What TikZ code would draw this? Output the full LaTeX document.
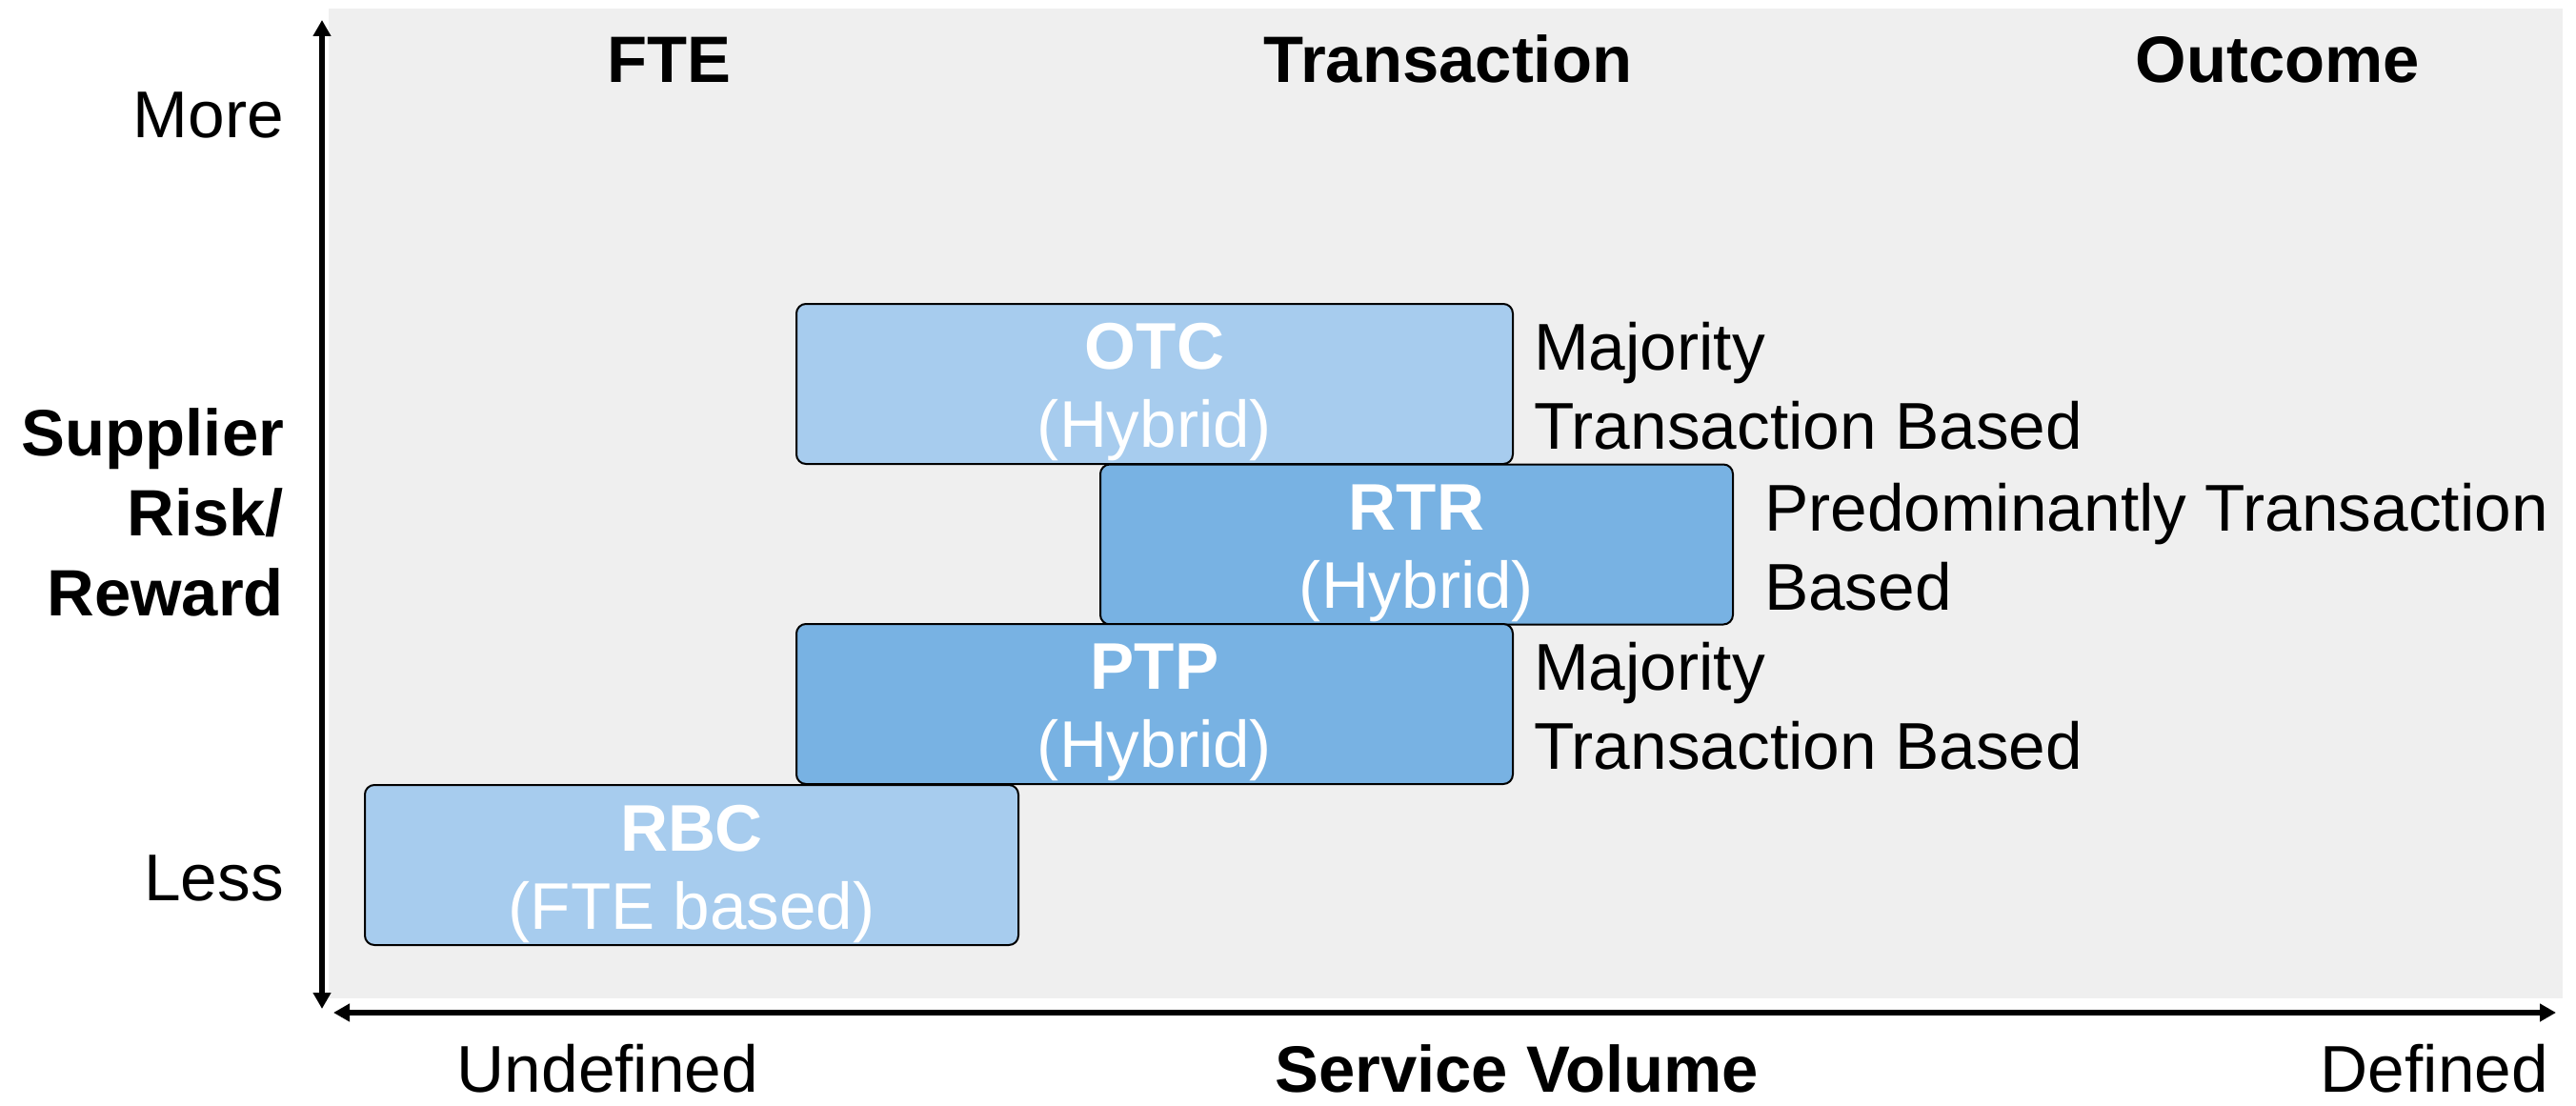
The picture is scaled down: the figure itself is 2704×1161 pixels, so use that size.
\documentclass[tikz,border=0pt]{standalone}
\usepackage{fontspec}
\setmainfont{Liberation Sans}
\usetikzlibrary{arrows.meta}

\definecolor{panel}{HTML}{EFEFEF}
\definecolor{lightblue}{HTML}{A7CCEE}
\definecolor{midblue}{HTML}{78B2E3}

\tikzset{
  every node/.style={inner sep=0pt, outer sep=0pt},
  txt/.style={font=\fontsize{34.7}{41.5}\selectfont},
  heading/.style={font=\fontsize{34.4}{42}\selectfont\bfseries},
  axis/.style={line width=3pt,
    {Triangle[width=9pt,length=8.5pt]}-{Triangle[width=9pt,length=8.5pt]}},
  tile/.style={draw=black, line width=1pt, rounded corners=5pt, minimum height=84pt},
  tilelight/.style={tile, fill=lightblue},
  tiledark/.style={tile, fill=midblue},
  tiletext/.style={text=white, align=center, font=\fontsize{34.6}{41}\selectfont},
  note/.style={txt, anchor=west, align=left},
}

\begin{document}
\begin{tikzpicture}[x=0.5pt, y=-0.5pt]
  \useasboundingbox (0,0) rectangle (2704,1161);

  % grey chart area
  \fill[panel] (345,9) rectangle (2690,1048);

  % axes
  \coordinate (ytop) at (338,21);
  \coordinate (ybot) at (338,1059);
  \coordinate (xleft) at (350,1063);
  \coordinate (xright) at (2683,1063);
  \draw[axis] (ybot) -- (ytop);
  \draw[axis] (xleft) -- (xright);

  % column headings
  \node[heading, anchor=base] (fte) at (702,87) {FTE};
  \node[heading, anchor=base] (transaction) at (1520,87) {Transaction};
  \node[heading, anchor=base] (outcome) at (2391,87) {Outcome};

  % vertical axis labels
  \node[txt, anchor=base east] (more) at (298,145) {More};
  \node[txt, anchor=base east] (less) at (298,945) {Less};
  \node[heading, anchor=east, align=right] (risk) at (298,538) {Supplier\\Risk/\\Reward};

  % horizontal axis labels
  \node[txt, anchor=base] (undefined) at (638,1146) {Undefined};
  \node[heading, anchor=base] (volume) at (1592,1146) {Service Volume};
  \node[txt, anchor=base east] (defined) at (2675,1146) {Defined};

  % process tiles
  \node[tilelight, minimum width=376pt] (otc) at (1212,403) {};
  \node[tiledark, minimum width=332pt] (rtr) at (1487,571.5) {};
  \node[tiledark, minimum width=376pt] (ptp) at (1212,739) {};
  \node[tilelight, minimum width=343pt] (rbc) at (726,908) {};

  \node[tiletext] (otc-text) at ([yshift=-4.5pt]otc.center) {\textbf{OTC}\\(Hybrid)};
  \node[tiletext] (rtr-text) at ([yshift=-4.5pt]rtr.center) {\textbf{RTR}\\(Hybrid)};
  \node[tiletext] (ptp-text) at ([yshift=-4.5pt]ptp.center) {\textbf{PTP}\\(Hybrid)};
  \node[tiletext] (rbc-text) at ([yshift=-4.5pt]rbc.center) {\textbf{RBC}\\(FTE based)};

  % pricing notes
  \node[note] (otc-note) at (1610,405) {Majority\\Transaction Based};
  \node[note] (rtr-note) at (1852,574) {Predominantly Transaction\\Based};
  \node[note] (ptp-note) at (1610,741) {Majority\\Transaction Based};
\end{tikzpicture}
\end{document}
